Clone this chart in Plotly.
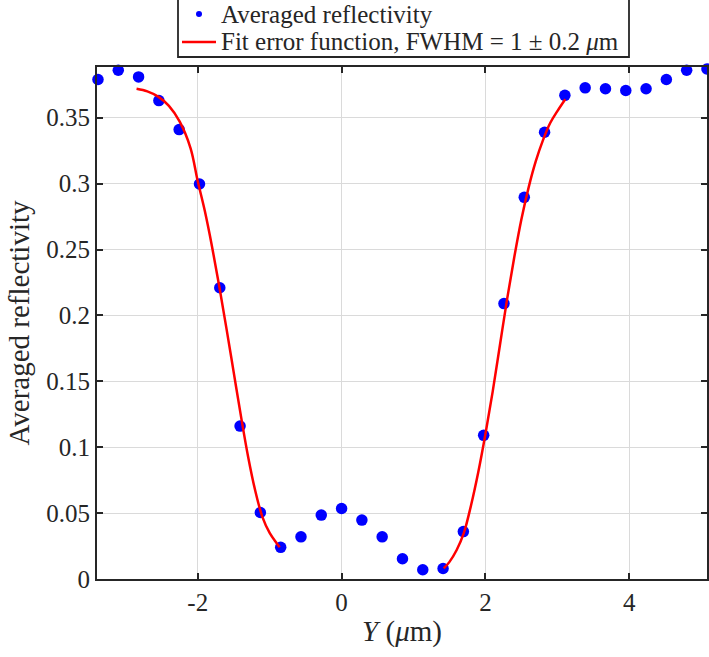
import plotly.graph_objects as go

# Data points (Y in micrometres, averaged reflectivity)
step = 0.2822
idx = list(range(-12, 19))
y_pos = [k * step for k in idx]
refl = [0.379, 0.386, 0.381, 0.363, 0.341, 0.2997, 0.221, 0.116, 0.0505, 0.024,
        0.032, 0.0485, 0.0535, 0.0447, 0.032, 0.0154, 0.007, 0.008, 0.036, 0.109,
        0.209, 0.2896, 0.339, 0.367, 0.3727, 0.372, 0.3707, 0.372, 0.379, 0.386, 0.387]

# Fitted error-function curves
fit_left_x = [-2.85, -2.7, -2.55, -2.4, -2.25, -2.1, -2.0, -1.9, -1.8, -1.7, -1.6,
              -1.5, -1.4, -1.3, -1.2, -1.1, -1.0, -0.9, -0.86]
fit_left_y = [0.372, 0.370, 0.366, 0.359, 0.347, 0.327, 0.302, 0.279, 0.252, 0.222,
              0.190, 0.157, 0.124, 0.093, 0.067, 0.047, 0.035, 0.027, 0.024]
fit_right_x = [1.42, 1.5, 1.6, 1.7, 1.8, 1.9, 2.0, 2.1, 2.2, 2.3, 2.4, 2.5, 2.6,
               2.7, 2.8, 2.9, 3.0, 3.11]
fit_right_y = [0.008, 0.013, 0.022, 0.035, 0.056, 0.081, 0.110, 0.142, 0.177, 0.212,
               0.244, 0.273, 0.297, 0.317, 0.333, 0.346, 0.355, 0.364]

legend_labels = ["Averaged reflectivity", "Fit error function, FWHM = 1 ± 0.2 <i>μ</i>m"]

x_tickvals = [-2, 0, 2, 4]
x_ticktext = ["-2", "0", "2", "4"]
y_tickvals = [0, 0.05, 0.1, 0.15, 0.2, 0.25, 0.3, 0.35]
y_ticktext = ["0", "0.05", "0.1", "0.15", "0.2", "0.25", "0.3", "0.35"]

FONT = "Liberation Serif, serif"
AX = "#262626"
W, H = 709, 657
ML, MR, MT, MB = 97, 2, 67, 78
PW, PH = W - ML - MR, H - MT - MB


def px(xp):
    return (xp - ML) / PW


def py(yp):
    return (H - MB - yp) / PH


fig = go.Figure()
fig.add_trace(go.Scatter(x=y_pos, y=refl, mode="markers",
                         marker=dict(color="#0000ff", size=11.5),
                         showlegend=False, cliponaxis=False))
fig.add_trace(go.Scatter(x=fit_left_x, y=fit_left_y, mode="lines",
                         line=dict(color="#ff0000", width=2.5, shape="spline"),
                         showlegend=False))
fig.add_trace(go.Scatter(x=fit_right_x, y=fit_right_y, mode="lines",
                         line=dict(color="#ff0000", width=2.5, shape="spline"),
                         showlegend=False))

axis_common = dict(showline=True, linecolor=AX, linewidth=1.8, mirror="ticks",
                   ticks="inside", ticklen=6, tickcolor=AX, tickwidth=1.5,
                   showgrid=True, gridcolor="#dadada", gridwidth=1.3,
                   zeroline=False, tickfont=dict(family=FONT, size=25, color=AX))

fig.update_xaxes(range=[-3.40, 5.08], tickvals=x_tickvals, ticktext=x_ticktext,
                 title=dict(text="<i>Y</i> (<i>μ</i>m)", font=dict(family=FONT, size=29, color=AX),
                            standoff=6),
                 **axis_common)
fig.update_yaxes(range=[0, 0.3885], tickvals=y_tickvals, ticktext=y_ticktext,
                 title=dict(text="Averaged reflectivity", font=dict(family=FONT, size=29, color=AX),
                            standoff=8),
                 **axis_common)

# Manual legend (box, symbols, labels)
shapes = [
    dict(type="rect", xref="paper", yref="paper",
         x0=px(178), x1=px(629), y0=py(57), y1=py(-5),
         line=dict(color=AX, width=1.8), fillcolor="white"),
    dict(type="circle", xref="paper", yref="paper",
         x0=px(196), x1=px(202), y0=py(17), y1=py(11),
         line=dict(color="#0000ff", width=0), fillcolor="#0000ff"),
    dict(type="line", xref="paper", yref="paper",
         x0=px(182), x1=px(216), y0=py(42), y1=py(42),
         line=dict(color="#ff0000", width=2.5)),
]
annotations = [
    dict(xref="paper", yref="paper", x=px(219), y=py(row_y), text=lab,
         xanchor="left", yanchor="middle", showarrow=False,
         font=dict(family=FONT, size=25, color=AX))
    for lab, row_y in zip(legend_labels, [14, 41])
]

fig.update_layout(
    width=W, height=H,
    margin=dict(l=ML, r=MR, t=MT, b=MB, autoexpand=False),
    paper_bgcolor="white", plot_bgcolor="white",
    showlegend=False,
    shapes=shapes, annotations=annotations,
)

fig.write_html("out.html")
